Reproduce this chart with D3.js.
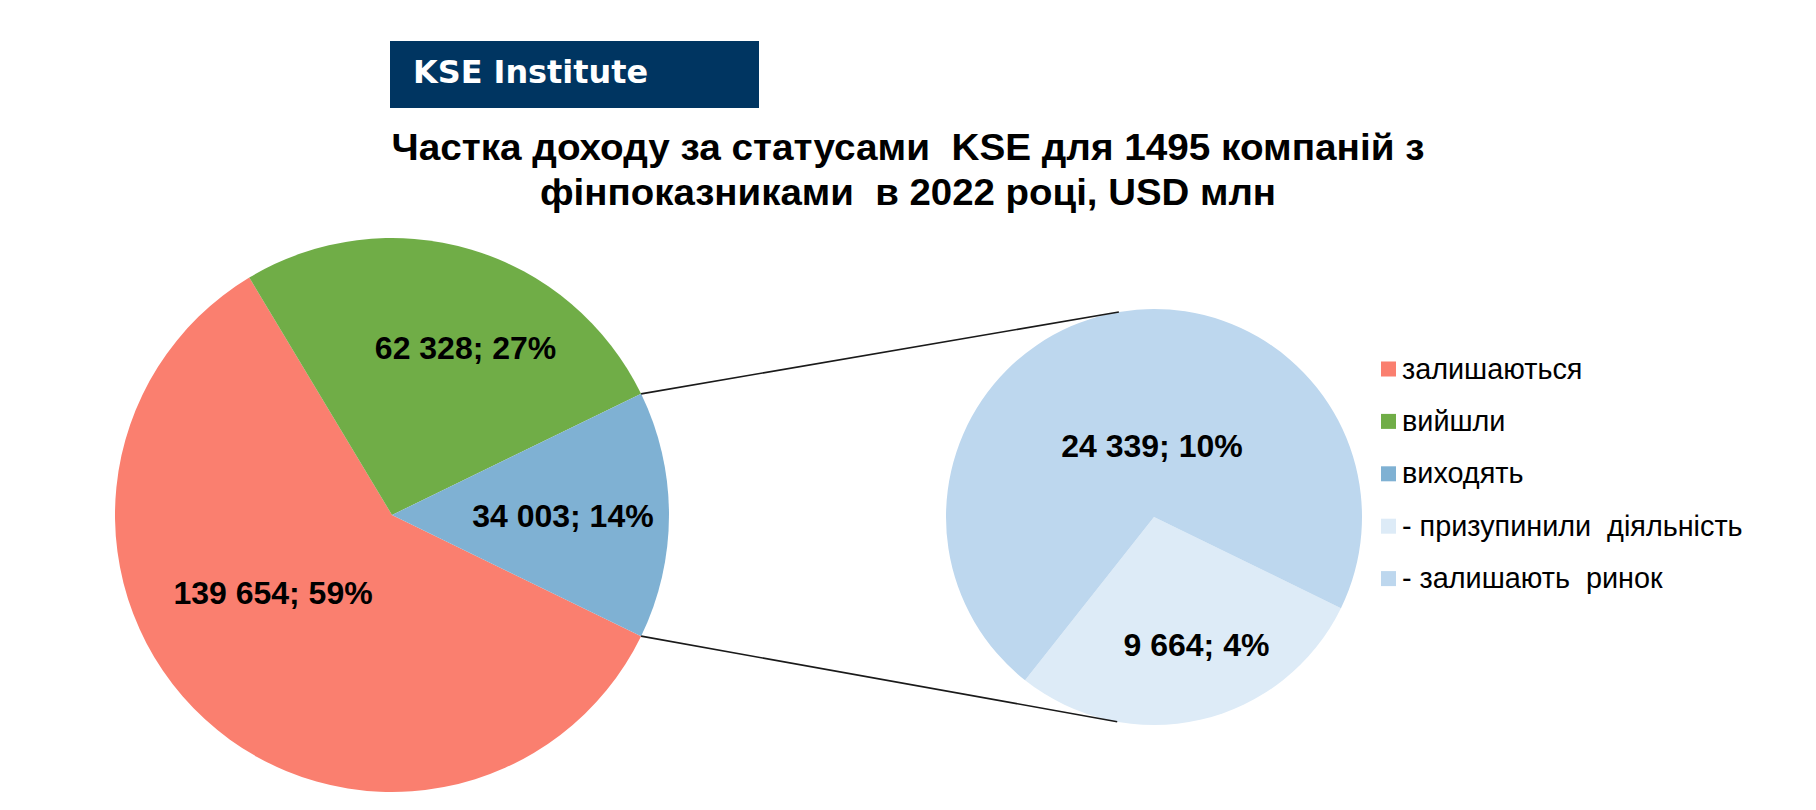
<!DOCTYPE html>
<html>
<head>
<meta charset="utf-8">
<script src="https://d3js.org/d3.v7.min.js"></script>
<style>
  body { margin: 0; background: #fff; }
  text { white-space: pre; }
</style>
</head>
<body>
<div id="chart"></div>
<script>
// data
var titleLines = ["Частка доходу за статусами  KSE для 1495 компаній з",
                  "фінпоказниками  в 2022 році, USD млн"];
var mainCategories = ["залишаються", "вийшли", "виходять"];
var mainValues = [139654, 62328, 34003];
var mainPercents = ["59%", "27%", "14%"];
var subCategories = ["- призупинили  діяльність", "- залишають  ринок"];
var subValues = [9664, 24339];
var subPercents = ["4%", "10%"];

var mainColors = ["#fa7f6f", "#70ad47", "#7fb1d3"];
var subColors = ["#ddebf7", "#bdd7ee"];

var width = 1816, height = 810;

var svg = d3.select("#chart")
  .append("svg")
    .attr("width", width)
    .attr("height", height);

var fmt = d3.formatLocale({decimal: ",", thousands: " ", grouping: [3], currency: ["", ""]}).format(",");
var rad = Math.PI / 180;

// header box
svg.append("rect")
    .attr("x", 390).attr("y", 41)
    .attr("width", 369).attr("height", 67)
    .style("fill", "#003561");
svg.append("text")
    .attr("x", 413).attr("y", 83)
    .attr("textLength", 235)
    .attr("lengthAdjust", "spacingAndGlyphs")
    .style("font-family", "DejaVu Sans")
    .style("font-weight", "bold")
    .style("font-size", "32px")
    .style("fill", "#fff")
    .text("KSE Institute");

// title
var titleWidths = [1033, 736];
svg.selectAll("text.title")
    .data(titleLines)
    .enter()
    .append("text")
    .attr("class", "title")
    .attr("x", width / 2)
    .attr("y", function(d, i) { return 159.5 + i * 45.5; })
    .attr("text-anchor", "middle")
    .attr("textLength", function(d, i) { return titleWidths[i]; })
    .attr("lengthAdjust", "spacingAndGlyphs")
    .style("font-family", "Liberation Sans, Arial")
    .style("font-weight", "bold")
    .style("font-size", "36px")
    .text(function(d) { return d; });

// main pie
var c1 = {x: 392, y: 515, r: 277};
var blueShare = mainValues[2] / d3.sum(mainValues);
var start1 = Math.PI / 2 + Math.PI * blueShare;
var pie1 = d3.pie().sort(null).startAngle(start1).endAngle(start1 + 2 * Math.PI);
var arcs1 = pie1(mainValues);
var arc1 = d3.arc().innerRadius(0).outerRadius(c1.r);

var g1 = svg.append("g").attr("transform", "translate(" + c1.x + "," + c1.y + ")");
g1.selectAll("path")
    .data(arcs1)
    .enter()
    .append("path")
    .attr("d", arc1)
    .style("fill", function(d, i) { return mainColors[i]; });

// label placement: angle nudge (deg) and radius factor
var lab1 = [[14.4, 0.513], [7.2, 0.66], [0, 0.617]];
g1.selectAll("text")
    .data(arcs1)
    .enter()
    .append("text")
    .attr("x", function(d, i) {
      var a = (d.startAngle + d.endAngle) / 2 + lab1[i][0] * rad;
      return Math.sin(a) * c1.r * lab1[i][1];
    })
    .attr("y", function(d, i) {
      var a = (d.startAngle + d.endAngle) / 2 + lab1[i][0] * rad;
      return -Math.cos(a) * c1.r * lab1[i][1] + 11.5;
    })
    .attr("text-anchor", "middle")
    .style("font-family", "Liberation Sans, Arial")
    .style("font-weight", "bold")
    .style("font-size", "32px")
    .text(function(d, i) { return fmt(d.value) + "; " + mainPercents[i]; });

// second pie
var c2 = {x: 1154, y: 517, r: 208};
var start2 = 116 * rad;
var pie2 = d3.pie().sort(null).startAngle(start2).endAngle(start2 + 2 * Math.PI);
var arcs2 = pie2(subValues);
var arc2 = d3.arc().innerRadius(0).outerRadius(c2.r);

var g2 = svg.append("g").attr("transform", "translate(" + c2.x + "," + c2.y + ")");
g2.selectAll("path")
    .data(arcs2)
    .enter()
    .append("path")
    .attr("d", arc2)
    .style("fill", function(d, i) { return subColors[i]; });

var lab2 = [[-5.6, 0.645], [11.2, 0.345]];
g2.selectAll("text")
    .data(arcs2)
    .enter()
    .append("text")
    .attr("x", function(d, i) {
      var a = (d.startAngle + d.endAngle) / 2 + lab2[i][0] * rad;
      return Math.sin(a) * c2.r * lab2[i][1];
    })
    .attr("y", function(d, i) {
      var a = (d.startAngle + d.endAngle) / 2 + lab2[i][0] * rad;
      return -Math.cos(a) * c2.r * lab2[i][1] + 11.5;
    })
    .attr("text-anchor", "middle")
    .style("font-family", "Liberation Sans, Arial")
    .style("font-weight", "bold")
    .style("font-size", "32px")
    .text(function(d, i) { return fmt(d.value) + "; " + subPercents[i]; });

// connector lines: blue slice edges -> tangent points of second pie
var blue = arcs1[2];
function edge(a) { return [c1.x + Math.sin(a) * c1.r, c1.y - Math.cos(a) * c1.r]; }
function tangent(p, sign) {
  var dx = p[0] - c2.x, dy = p[1] - c2.y;
  var d = Math.sqrt(dx * dx + dy * dy);
  var t = Math.atan2(dy, dx) + sign * Math.acos(c2.r / d);
  return [c2.x + Math.cos(t) * c2.r, c2.y + Math.sin(t) * c2.r];
}
var pTop = edge(blue.startAngle), pBot = edge(blue.endAngle);
var connectors = [[pTop, tangent(pTop, 1)], [pBot, tangent(pBot, -1)]];
svg.selectAll("line.conn")
    .data(connectors)
    .enter()
    .append("line")
    .attr("class", "conn")
    .attr("x1", function(d) { return d[0][0]; })
    .attr("y1", function(d) { return d[0][1]; })
    .attr("x2", function(d) { return d[1][0]; })
    .attr("y2", function(d) { return d[1][1]; })
    .style("stroke", "#1a1a1a")
    .style("stroke-width", 1.6);

// legend
var legendNames = mainCategories.concat(subCategories);
var legendColors = mainColors.concat(subColors);
var legend = svg.append("g").attr("transform", "translate(1381,369)");
legend.selectAll("rect")
    .data(legendNames)
    .enter()
    .append("rect")
    .attr("x", 0)
    .attr("y", function(d, i) { return i * 52.4 - 7.5; })
    .attr("width", 15)
    .attr("height", 15)
    .style("fill", function(d, i) { return legendColors[i]; });
legend.selectAll("text")
    .data(legendNames)
    .enter()
    .append("text")
    .attr("x", 21)
    .attr("y", function(d, i) { return i * 52.4 + 9.5; })
    .style("font-family", "Liberation Sans, Arial")
    .style("font-size", "28.8px")
    .text(function(d) { return d; });
</script>
</body>
</html>
